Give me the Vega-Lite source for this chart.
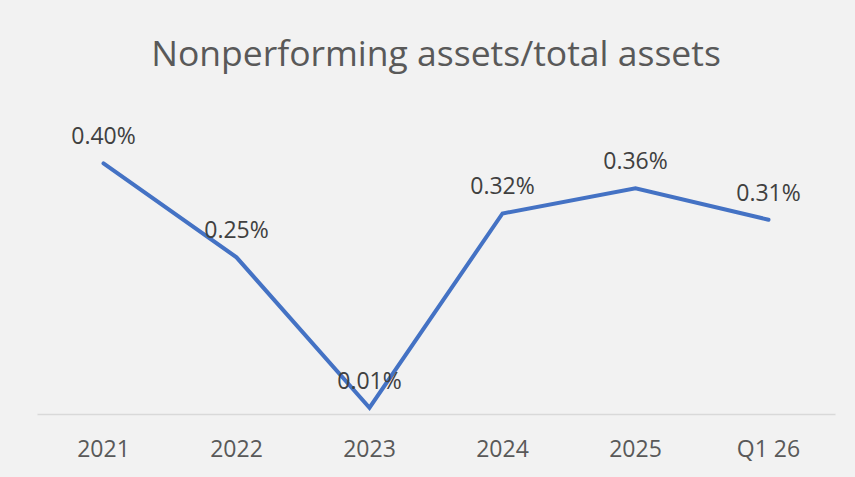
{
  "$schema": "https://vega.github.io/schema/vega-lite/v6.json",
  "autosize": {"type": "none"},
  "padding": {"left": 37, "top": 132, "right": 20, "bottom": 63},
  "width": 798,
  "height": 282,
  "background": "#f2f2f2",
  "config": {"view": {"stroke": null}, "font": "Open Sans"},
  "title": {
    "text": "Nonperforming assets/total assets",
    "font": "Open Sans",
    "fontSize": 35.5,
    "fontWeight": "normal",
    "color": "#595959",
    "anchor": "middle",
    "offset": 53
  },
  "data": {
    "values": [
      {"period": "2021", "value": 0.40, "label": "0.40%"},
      {"period": "2022", "value": 0.25, "label": "0.25%"},
      {"period": "2023", "value": 0.01, "label": "0.01%"},
      {"period": "2024", "value": 0.32, "label": "0.32%"},
      {"period": "2025", "value": 0.36, "label": "0.36%"},
      {"period": "Q1 26", "value": 0.31, "label": "0.31%"}
    ]
  },
  "encoding": {
    "x": {
      "field": "period",
      "type": "nominal",
      "sort": null,
      "scale": {"type": "band", "paddingInner": 0, "paddingOuter": 0},
      "axis": {
        "title": null,
        "labelAngle": 0,
        "labelFont": "Open Sans",
        "labelFontSize": 23,
        "labelColor": "#595959",
        "labelPadding": 24,
        "ticks": false,
        "domainColor": "#d9d9d9",
        "domainWidth": 1.5,
        "grid": false
      }
    },
    "y": {
      "field": "value",
      "type": "quantitative",
      "scale": {"domain": [0, 0.45], "nice": false, "zero": true},
      "axis": null
    }
  },
  "layer": [
    {
      "mark": {"type": "line", "color": "#4472c4", "strokeWidth": 4, "strokeCap": "round", "strokeJoin": "miter", "clip": false}
    },
    {
      "mark": {"type": "text", "dy": -26, "font": "Open Sans", "fontSize": 23, "color": "#404040", "align": "center", "baseline": "middle"},
      "encoding": {"text": {"field": "label"}}
    }
  ]
}
